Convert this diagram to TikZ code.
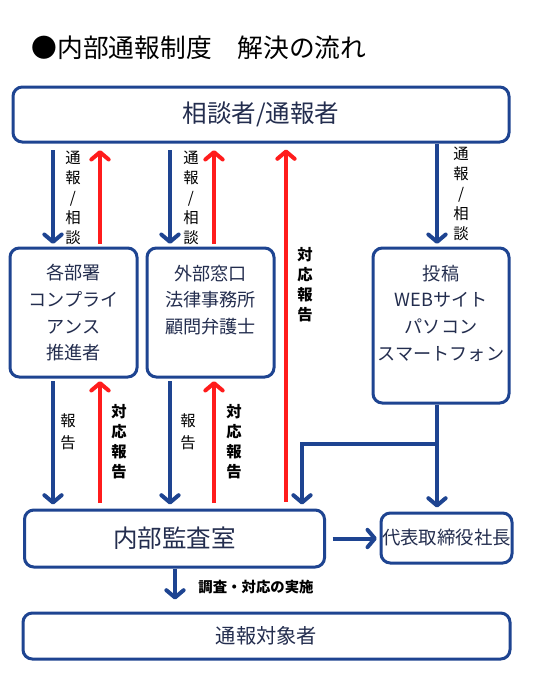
\documentclass[tikz,border=0pt]{standalone}
\usepackage{fontspec}
\setmainfont{Noto Sans CJK JP}
\usetikzlibrary{arrows.meta, calc}

\definecolor{flowblue}{RGB}{30,68,145}
\definecolor{flowred}{RGB}{255,28,28}
\definecolor{boxtext}{RGB}{35,45,78}

\tikzset{
  box/.style={draw=flowblue, line width=2.25pt, rounded corners=7pt, inner sep=0pt,
    text=boxtext, align=center},
  flow/.style={draw=flowblue, line width=3pt,
    -{Straight Barb[length=5.5pt, width=13pt, round]}},
  reply/.style={draw=flowred, line width=3pt,
    -{Straight Barb[length=5.5pt, width=13pt, round]}},
  vlabel/.style={align=center, font=\fontsize{11.5}{15}\selectfont},
}

\begin{document}
\begin{tikzpicture}[x=0.75pt, y=-0.75pt]
        \useasboundingbox (0,0) rectangle (556,674);
        \node (title) at (27,48) [anchor=west, font=\fontsize{19.3}{22}\selectfont] {●内部通報制度　解決の流れ};

        % boxes
        \node (top) at (261,114.5) [box, minimum width=372pt, minimum height=41.25pt, font=\fontsize{18.4}{22}\selectfont] {相談者/通報者};
        \node (a) at (73.5,312.5) [box, minimum width=95.25pt, minimum height=96.75pt] {};
        \node (b) at (210.5,312.5) [box, minimum width=95.25pt, minimum height=96.75pt] {};
        \node (c) at (441,325.5) [box, minimum width=102pt, minimum height=116.25pt] {};
        \node (at) at (73.5,313) [text=boxtext, align=center, font=\fontsize{13.6}{20}\selectfont] {各部署\\コンプライ\\アンス\\推進者};
        \node (bt) at (210.5,300) [text=boxtext, align=center, font=\fontsize{13.6}{20}\selectfont] {外部窓口\\法律事務所\\顧問弁護士};
        \node (ct) at (441,313) [text=boxtext, align=center, font=\fontsize{13.6}{20}\selectfont] {投稿\\WEBサイト\\パソコン\\スマートフォン};
        \node (audit) at (174.5,538.5) [box, minimum width=225pt, minimum height=42.75pt, font=\fontsize{18.4}{22}\selectfont] {内部監査室};
        \node (ceo) at (446.5,538) [box, minimum width=98.25pt, minimum height=37.5pt, font=\fontsize{13.8}{16}\selectfont] {代表取締役社長};
        \node (target) at (266.5,636) [box, minimum width=365.25pt, minimum height=34.5pt, font=\fontsize{15.2}{18}\selectfont] {通報対象者};

        % columns
        \coordinate (c1) at (53,0);
        \coordinate (c2) at (100,0);
        \coordinate (c3) at (170,0);
        \coordinate (c4) at (214,0);
        \coordinate (c5) at (286,0);
        \coordinate (c6) at (302,0);
        \coordinate (c7) at (437,0);
        \coordinate (c8) at (175,0);
        \coordinate (split) at (437,444);

        % top row
        \draw[flow, shorten <=5pt, shorten >=2pt] (top.south -| c1) -- (a.north -| c1);
        \draw[reply, shorten <=2pt, shorten >=5pt] (a.north -| c2) -- (top.south -| c2);
        \draw[flow, shorten <=5pt, shorten >=2pt] (top.south -| c3) -- (b.north -| c3);
        \draw[reply, shorten <=2pt, shorten >=5pt] (b.north -| c4) -- (top.south -| c4);
        \draw[reply, shorten <=5pt, shorten >=4.5pt] (audit.north -| c5) -- (top.south -| c5);
        \draw[flow, shorten >=2pt] (top.south -| c7) -- (c.north -| c7);

        % bottom row
        \draw[flow, shorten <=2pt, shorten >=3pt] (a.south -| c1) -- (audit.north -| c1);
        \draw[reply, shorten <=4pt, shorten >=2pt] (audit.north -| c2) -- (a.south -| c2);
        \draw[flow, shorten <=2pt, shorten >=3pt] (b.south -| c3) -- (audit.north -| c3);
        \draw[reply, shorten <=4pt, shorten >=2pt] (audit.north -| c4) -- (b.south -| c4);
        \draw[flow, shorten >=3pt] (c.south -| c7) -- (ceo.north -| c7);
        \draw[flow, shorten >=3pt] (split) -| (audit.north -| c6);
        \draw[flow, shorten <=5pt, shorten >=2pt] (audit.east) -- (audit.east -| ceo.west);
        \draw[flow, shorten >=9pt] (audit.south -| c8) -- (target.north -| c8);

        % labels
        \node (l1) at (73,197.5) [vlabel] {通\\報\\/\\相\\談};
        \node (l2) at (191,197.5) [vlabel] {通\\報\\/\\相\\談};
        \node (l3) at (461,194) [vlabel] {通\\報\\/\\相\\談};
        \node (l4) at (305,285) [vlabel, font=\bfseries\fontsize{11.5}{15}\selectfont] {対\\応\\報\\告};
        \node (l5) at (68,432) [vlabel, font=\fontsize{11.5}{16.5}\selectfont] {報\\告};
        \node (l6) at (119,442) [vlabel, font=\bfseries\fontsize{11.5}{15}\selectfont] {対\\応\\報\\告};
        \node (l7) at (188,432) [vlabel, font=\fontsize{11.5}{16.5}\selectfont] {報\\告};
        \node (l8) at (234,442) [vlabel, font=\bfseries\fontsize{11.5}{15}\selectfont] {対\\応\\報\\告};
        \node (l9) at (256,587) [font=\bfseries\fontsize{10.8}{12}\selectfont] {調査・対応の実施};
      \end{tikzpicture}
\end{document}
